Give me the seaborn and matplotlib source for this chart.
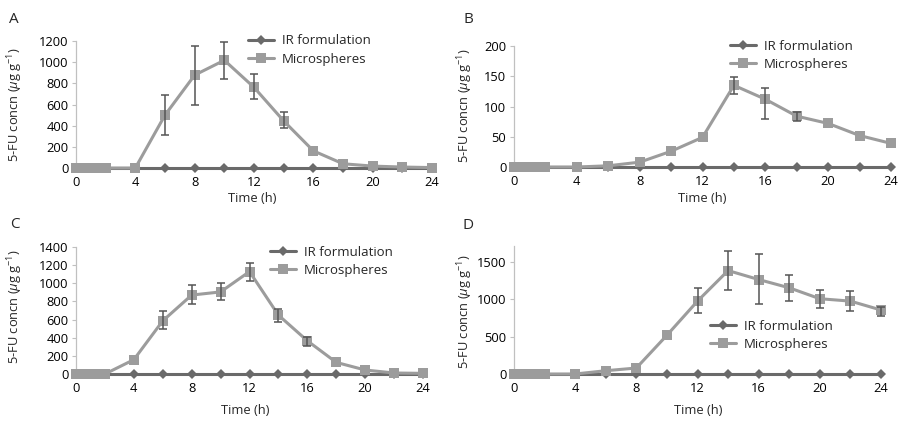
import numpy as np
import pandas as pd
import matplotlib
matplotlib.use("Agg")
import matplotlib.pyplot as plt
import seaborn as sns

nan = np.nan
# ---- data ----
time_h = [0, 0.5, 1, 1.5, 2, 4, 6, 8, 10, 12, 14, 16, 18, 20, 22, 24]
ir_formulation = [0] * 16

a_micro = [0, 0, 0, 0, 0, 0, 500, 878, 1018, 762, 445, 162, 40, 18, 9, 4]
a_hi = [nan, nan, nan, nan, nan, nan, 688, 1150, 1192, 885, 530, nan, nan, nan, nan, nan]
a_lo = [nan, nan, nan, nan, nan, nan, 312, 598, 840, 650, 382, nan, nan, nan, nan, nan]

b_micro = [0, 0, 0, 0, 0, 0, 2, 8, 26, 49, 135, 112, 84, 72, 52, 39]
b_hi = [nan, nan, nan, nan, nan, nan, nan, nan, nan, nan, 148, 130, 91, nan, nan, nan]
b_lo = [nan, nan, nan, nan, nan, nan, nan, nan, nan, nan, 121, 80, 76, nan, nan, nan]

c_micro = [0, 0, 0, 0, 0, 158, 586, 870, 905, 1129, 649, 366, 128, 44, 11, 7]
c_hi = [nan, nan, nan, nan, nan, nan, 696, 978, 1008, 1228, 715, 410, nan, nan, nan, nan]
c_lo = [nan, nan, nan, nan, nan, nan, 495, 770, 813, 1026, 568, 311, nan, nan, nan, nan]

d_micro = [0, 0, 0, 0, 0, 0, 44, 80, 519, 976, 1385, 1265, 1154, 1008, 976, 857]
d_hi = [nan, nan, nan, nan, nan, nan, nan, nan, nan, 1145, 1642, 1607, 1332, 1127, 1105, 901]
d_lo = [nan, nan, nan, nan, nan, nan, nan, nan, nan, 812, 1123, 932, 976, 888, 843, 777]

x_ticks = [0, 4, 8, 12, 16, 20, 24]
series_names = ["IR formulation", "Microspheres"]
panel_letters = ["A", "B", "C", "D"]
x_label = "Time (h)"
y_label = r"5-FU concn ($\mu$g g$^{-1}$)"

sns.set_theme(style="white")
plt.rcParams["font.family"] = ["Open Sans", "DejaVu Sans"]
plt.rcParams["mathtext.fontset"] = "custom"
plt.rcParams["mathtext.rm"] = "Open Sans"
plt.rcParams["mathtext.it"] = "Open Sans:italic"

W, H = 901, 422
fig = plt.figure(figsize=(W / 100, H / 100), dpi=100)

IR_COL = "#6a6a6a"
MS_COL = "#9c9c9c"
ERR_COL = "#555555"
SPINE_COL = "#c0c0c0"
FS = 9.3

panels = [
    dict(x0=76, x1=432, y0=168, yt=41, ymax=1200, yticks=[0, 200, 400, 600, 800, 1000, 1200],
         leg=(248, 43), let=(9, 23), yl=(15, 105), xl=(252, 198),
         m=a_micro, hi=a_hi, lo=a_lo),
    dict(x0=514, x1=891, y0=167, yt=46, ymax=200, yticks=[0, 50, 100, 150, 200],
         leg=(730, 48), let=(463, 23), yl=(465, 106), xl=(702, 198),
         m=b_micro, hi=b_hi, lo=b_lo),
    dict(x0=76, x1=423, y0=374, yt=247, ymax=1400, yticks=[0, 200, 400, 600, 800, 1000, 1200, 1400],
         leg=(270, 254), let=(10, 228), yl=(15, 307), xl=(245, 410),
         m=c_micro, hi=c_hi, lo=c_lo),
    dict(x0=514, x1=881, y0=374, yt=246, ymax=1714, yticks=[0, 500, 1000, 1500],
         leg=(710, 328), let=(462, 229), yl=(465, 312), xl=(698, 410),
         m=d_micro, hi=d_hi, lo=d_lo),
]

for letter, p in zip(panel_letters, panels):
    ax = fig.add_axes([p["x0"] / W, 1 - p["y0"] / H,
                       (p["x1"] - p["x0"]) / W, (p["y0"] - p["yt"]) / H])
    df = pd.DataFrame({"t": time_h, "ir": ir_formulation, "ms": p["m"]})
    sns.lineplot(data=df, x="t", y="ir", ax=ax, color=IR_COL, lw=2.2,
                 marker="D", markersize=5, markeredgewidth=0, label=series_names[0],
                 clip_on=False, zorder=3)
    sns.lineplot(data=df, x="t", y="ms", ax=ax, color=MS_COL, lw=2.2,
                 marker="s", markersize=7.5, markeredgewidth=0, label=series_names[1],
                 clip_on=False, zorder=4)
    m = np.array(p["m"], float)
    hi = np.array(p["hi"], float)
    lo = np.array(p["lo"], float)
    ok = ~np.isnan(hi)
    t = np.array(time_h, float)
    ax.errorbar(t[ok], m[ok], yerr=[m[ok] - lo[ok], hi[ok] - m[ok]], fmt="none",
                ecolor=ERR_COL, elinewidth=1.1, capsize=3, capthick=1.1, zorder=5,
                clip_on=False)
    ax.set_xlim(0, 24)
    ax.set_ylim(0, p["ymax"])
    ax.set_xticks(x_ticks)
    ax.set_yticks(p["yticks"])
    ax.set_xlabel("")
    ax.set_ylabel("")
    sns.despine(ax=ax)
    for s in ("left", "bottom"):
        ax.spines[s].set_color(SPINE_COL)
        ax.spines[s].set_linewidth(0.9)
    ax.tick_params(axis="x", length=0, pad=5.5, labelsize=FS, colors="black")
    ax.tick_params(axis="y", length=3, width=0.8, color=SPINE_COL, pad=2.5,
                   labelsize=FS, labelcolor="black", left=True)
    lx, ly = p["leg"]
    ax.legend(loc="upper left", bbox_to_anchor=(lx / W, 1 - (ly - 8.5) / H),
              bbox_transform=fig.transFigure, frameon=False, fontsize=FS + 0.2,
              borderpad=0, borderaxespad=0, handlelength=2.0, handletextpad=0.55,
              labelspacing=0.4)
    fig.text(p["let"][0] / W, 1 - p["let"][1] / H, letter, fontsize=11,
             ha="left", va="baseline")
    fig.text(p["yl"][0] / W, 1 - p["yl"][1] / H, y_label, rotation=90,
             fontsize=FS, ha="center", va="center")
    fig.text(p["xl"][0] / W, 1 - p["xl"][1] / H, x_label,
             fontsize=FS, ha="center", va="center")

fig.savefig("out.png", dpi=100)
